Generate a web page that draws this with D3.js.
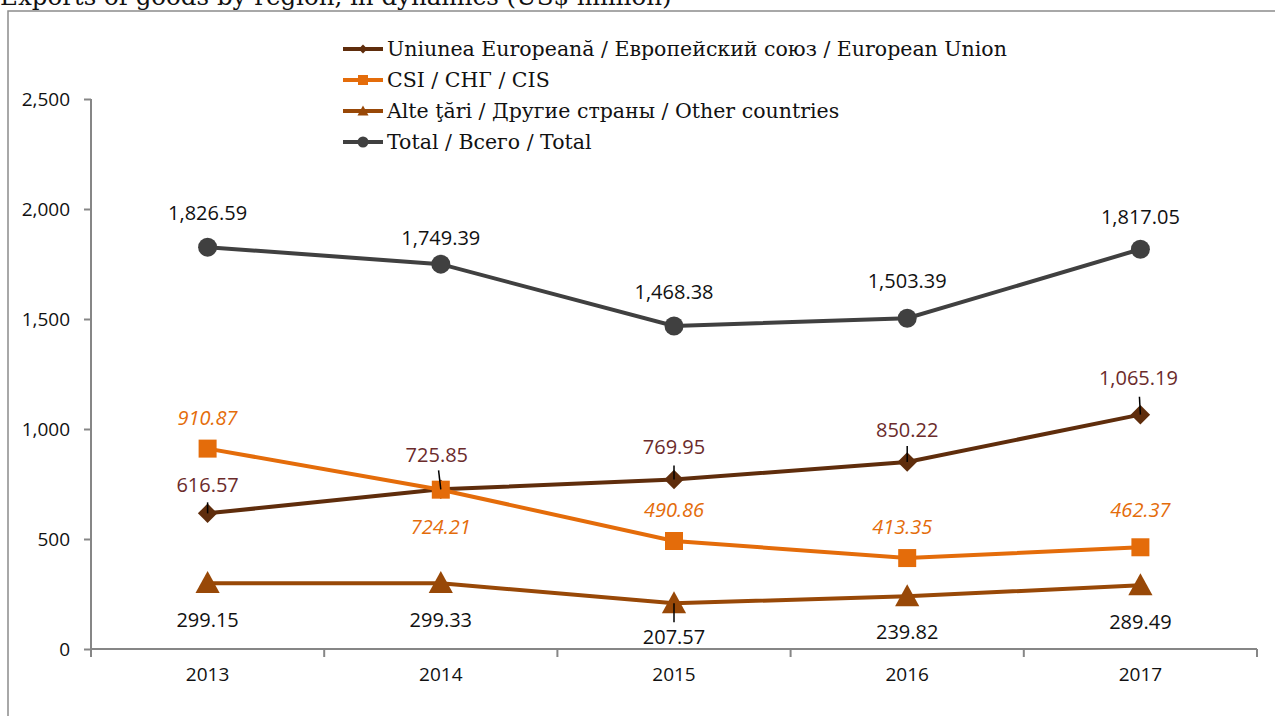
<!DOCTYPE html>
<html>
<head>
<meta charset="utf-8">
<script src="https://cdn.jsdelivr.net/npm/d3@7"></script>
<style>
  body { margin: 0; background: #fff; }
  svg { display: block; }
  .axis path, .axis line { stroke: #868686; stroke-width: 2; }
  .axis text { font-family: "Open Sans", sans-serif; font-size: 19px; fill: #111; }
  .lbl { font-family: "Open Sans", sans-serif; font-size: 20px; }
  .leg { font-family: "DejaVu Serif", serif; font-size: 20.5px; fill: #111; }
</style>
</head>
<body>
<div id="chart"></div>
<script>
// data
var years = ["2013", "2014", "2015", "2016", "2017"];
var euValues = [616.57, 725.85, 769.95, 850.22, 1065.19];
var cisValues = [910.87, 724.21, 490.86, 413.35, 462.37];
var otherValues = [299.15, 299.33, 207.57, 239.82, 289.49];
var totalValues = [1826.59, 1749.39, 1468.38, 1503.39, 1817.05];
var yTicks = [0, 500, 1000, 1500, 2000, 2500];
var seriesNames = [
  "Uniunea Europeană / Европейский союз / European Union",
  "CSI / СНГ / CIS",
  "Alte ţări / Другие страны / Other countries",
  "Total / Всего / Total"
];

var svgWidth = 1275;
var svgHeight = 716;
var margin = { left: 91, top: 99 };
var width = 1257 - 91;
var height = 649 - 99;

var svg = d3.select("#chart")
  .append("svg")
  .attr("width", svgWidth)
  .attr("height", svgHeight);

// frame + title (cut off at the top like the source)
svg.append("rect")
  .attr("x", 8).attr("y", 11)
  .attr("width", 1300).attr("height", 800)
  .attr("fill", "none").attr("stroke", "#8c8c8c").attr("stroke-width", 1.5);

svg.append("text")
  .attr("x", 0).attr("y", 5)
  .attr("font-family", "DejaVu Serif, serif")
  .attr("font-size", 24.5)
  .attr("fill", "#111")
  .text("Exports of goods by region, in dynamics (US$ million)");

var chartGroup = svg.append("g")
  .attr("transform", `translate(${margin.left}, ${margin.top})`);

var x = d3.scaleBand().domain(years).range([0, width]);
var y = d3.scaleLinear().domain([0, 2500]).range([height, 0]);
var cx = d => x(d) + x.bandwidth() / 2;

// axes
var leftAxis = d3.axisLeft(y).tickValues(yTicks).tickSize(7).tickPadding(14)
  .tickFormat(d3.format(","));
chartGroup.append("g").attr("class", "axis").call(leftAxis)
  .call(g => g.select(".domain").attr("d", `M0,0V${height}`));

var bottomAxis = d3.axisBottom(x).tickSize(0).tickPadding(19);
var xg = chartGroup.append("g").attr("class", "axis")
  .attr("transform", `translate(0, ${height})`)
  .call(bottomAxis);
xg.select(".domain").attr("d", `M0,0H${width}`);
// boundary ticks between categories
xg.selectAll(".bt")
  .data(d3.range(years.length + 1))
  .enter().append("line")
  .attr("x1", i => i * x.step()).attr("x2", i => i * x.step())
  .attr("y1", 0).attr("y2", 8);

var series = [
  { name: seriesNames[0], values: euValues, color: "#5f2d0c", marker: "diamond", labelColor: "#6b2b2b", italic: false,
    dy: [-28, -34, -33, -32, -37], dx: [0, -4, 0, 0, -2], leader: [11, 19, 14, 16, 18] },
  { name: seriesNames[1], values: cisValues, color: "#e46c0a", marker: "square", labelColor: "#e46c0a", italic: true,
    dy: [-31, 37, -31, -31, -37], dx: [0, 0, 0, -5, 0], leader: [0, 0, 0, 0, 0] },
  { name: seriesNames[2], values: otherValues, color: "#984807", marker: "triangle", labelColor: "#111", italic: false,
    dy: [37, 37, 34, 36, 37], dx: [0, 0, 0, 0, 0], leader: [0, 0, 19, 0, 0] },
  { name: seriesNames[3], values: totalValues, color: "#404040", marker: "circle", labelColor: "#111", italic: false,
    dy: [-34, -26, -34, -37, -32], dx: [0, 0, 0, 0, 0], leader: [0, 0, 0, 0, 0] }
];

function markerPath(type, s) {
  if (type === "diamond") return d3.symbol(d3.symbolDiamond2, s * s * 0.5)();
  if (type === "square") return `M${-s / 2},${-s / 2}h${s}v${s}h${-s}Z`;
  if (type === "triangle") return `M0,${-s * 0.55}L${s * 0.55},${s * 0.45}L${-s * 0.55},${s * 0.45}Z`;
  return d3.symbol(d3.symbolCircle, Math.PI * (s / 2) * (s / 2))();
}
var markerSize = { diamond: 22, square: 18, triangle: 22, circle: 19 };

var line = d3.line().x((d, i) => cx(years[i])).y(d => y(d));

series.forEach(function(s) {
  chartGroup.append("path")
    .datum(s.values)
    .attr("d", line)
    .attr("fill", "none")
    .attr("stroke", s.color)
    .attr("stroke-width", 4);

  chartGroup.selectAll(null)
    .data(s.values)
    .enter().append("path")
    .attr("transform", (d, i) => `translate(${cx(years[i])}, ${y(d)})`)
    .attr("d", markerPath(s.marker, markerSize[s.marker]))
    .attr("fill", s.color);
});

// data labels with short leader lines
series.forEach(function(s) {
  s.values.forEach(function(v, i) {
    var px = cx(years[i]), py = y(v);
    var lx = px + s.dx[i], ly = py + s.dy[i];
    if (s.leader[i]) {
      var len = s.leader[i];
      var ddx = lx - px, ddy = ly - py;
      var k = len / Math.sqrt(ddx * ddx + ddy * ddy);
      chartGroup.append("line")
        .attr("x1", px + ddx * k).attr("y1", py + ddy * k)
        .attr("x2", px).attr("y2", py)
        .attr("stroke", "#000").attr("stroke-width", 1.5);
    }
    chartGroup.append("text")
      .attr("class", "lbl")
      .attr("x", lx).attr("y", ly)
      .attr("dy", "0.35em")
      .attr("text-anchor", "middle")
      .attr("fill", s.labelColor)
      .attr("font-style", s.italic ? "italic" : "normal")
      .text(d3.format(",.2f")(v));
  });
});

// legend
var legend = svg.append("g").attr("transform", "translate(343, 49)");
series.forEach(function(s, i) {
  var row = legend.append("g").attr("transform", `translate(0, ${i * 31})`);
  row.append("line").attr("x1", 0).attr("x2", 40).attr("y1", 0).attr("y2", 0)
    .attr("stroke", s.color).attr("stroke-width", 4);
  row.append("path").attr("transform", "translate(20, 0)")
    .attr("d", markerPath(s.marker, s.marker === "circle" ? 11 : 10))
    .attr("fill", s.color);
  row.append("text").attr("class", "leg")
    .attr("x", 44).attr("y", 0).attr("dy", "0.35em")
    .text(s.name);
});
</script>
</body>
</html>
